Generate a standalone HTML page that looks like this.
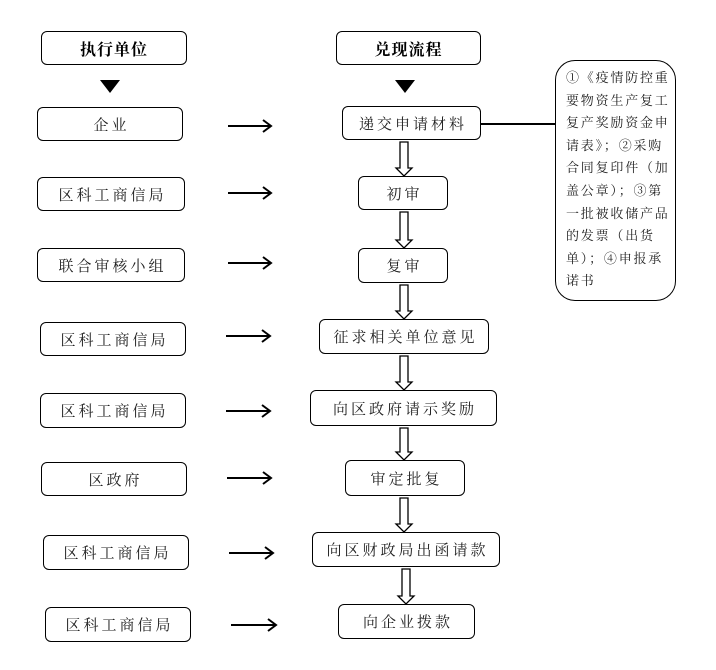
<!DOCTYPE html>
<html><head><meta charset="utf-8"><style>
body{margin:0;width:716px;height:670px;background:#fff;position:relative;overflow:hidden;font-family:"Liberation Serif","Noto Serif CJK SC","Noto Sans CJK SC",serif;}
.b{position:absolute;border:1.5px solid #000;border-radius:6px;box-sizing:border-box;display:flex;align-items:center;justify-content:center;font-size:15px;letter-spacing:3px;color:#222;padding-left:3px}
.h{font-weight:bold;font-size:16px;letter-spacing:1px;color:#000;padding-left:0}
.note{position:absolute;left:555px;top:60px;width:121px;height:241px;border:1.5px solid #000;border-radius:20px;box-sizing:border-box;padding:6px 0 0 10px;font-size:13px;line-height:22.6px;letter-spacing:1.8px;color:#222;}
svg{position:absolute;left:0;top:0}
</style></head><body>
<div class="b h" style="left:41px;top:31px;width:146px;height:34px">执行单位</div>
<div class="b h" style="left:336px;top:31px;width:145px;height:34px">兑现流程</div>

<div class="b" style="left:37px;top:107px;width:146px;height:34px">企业</div>
<div class="b" style="left:37px;top:177px;width:148px;height:34px">区科工商信局</div>
<div class="b" style="left:37px;top:248px;width:148px;height:34px">联合审核小组</div>
<div class="b" style="left:40px;top:322px;width:146px;height:34px">区科工商信局</div>
<div class="b" style="left:40px;top:393px;width:146px;height:35px">区科工商信局</div>
<div class="b" style="left:41px;top:462px;width:146px;height:34px">区政府</div>
<div class="b" style="left:43px;top:535px;width:146px;height:35px">区科工商信局</div>
<div class="b" style="left:45px;top:607px;width:146px;height:35px">区科工商信局</div>

<div class="b" style="left:342px;top:106px;width:139px;height:34px">递交申请材料</div>
<div class="b" style="left:358px;top:176px;width:90px;height:34px">初审</div>
<div class="b" style="left:358px;top:248px;width:90px;height:35px">复审</div>
<div class="b" style="left:319px;top:319px;width:170px;height:35px">征求相关单位意见</div>
<div class="b" style="left:310px;top:390px;width:187px;height:36px">向区政府请示奖励</div>
<div class="b" style="left:345px;top:460px;width:120px;height:36px">审定批复</div>
<div class="b" style="left:312px;top:532px;width:188px;height:35px">向区财政局出函请款</div>
<div class="b" style="left:338px;top:604px;width:137px;height:35px">向企业拨款</div>

<div class="note">①《疫情防控重要物资生产复工复产奖励资金申请表》；②采购合同复印件（加盖公章）；③第一批被收储产品的发票（出货单）；④申报承诺书</div>

<svg width="716" height="670">
<polygon points="100,80 120,80 110,93" fill="#000"/>
<polygon points="395,80 415,80 405,93" fill="#000"/>
<line x1="481" y1="124" x2="555" y2="124" stroke="#000" stroke-width="2"/>
<g stroke="#000" stroke-width="2" fill="none">
<path d="M228 126H271M263 120L271 126L263 132"/>
<path d="M228 193H271M263 187L271 193L263 199"/>
<path d="M228 263H271M263 257L271 263L263 269"/>
<path d="M226 336H270M262 330L270 336L262 342"/>
<path d="M226 411H270M262 405L270 411L262 417"/>
<path d="M227 478H271M263 472L271 478L263 484"/>
<path d="M229 553H273M265 547L273 553L265 559"/>
<path d="M231 625H276M268 619L276 625L268 631"/>
</g>
<g stroke="#000" stroke-width="1.3" fill="#fff">
<path d="M400 142V168H396L404 176L412 168H408V142Z"/>
<path d="M400 212V240H396L404 248L412 240H408V212Z"/>
<path d="M400 285V311H396L404 319L412 311H408V285Z"/>
<path d="M400 356V382H396L404 390L412 382H408V356Z"/>
<path d="M400 428V452H396L404 460L412 452H408V428Z"/>
<path d="M400 498V524H396L404 532L412 524H408V498Z"/>
<path d="M402 569V596H398L406 604L414 596H410V569Z"/>
</g>
</svg>
</body></html>
